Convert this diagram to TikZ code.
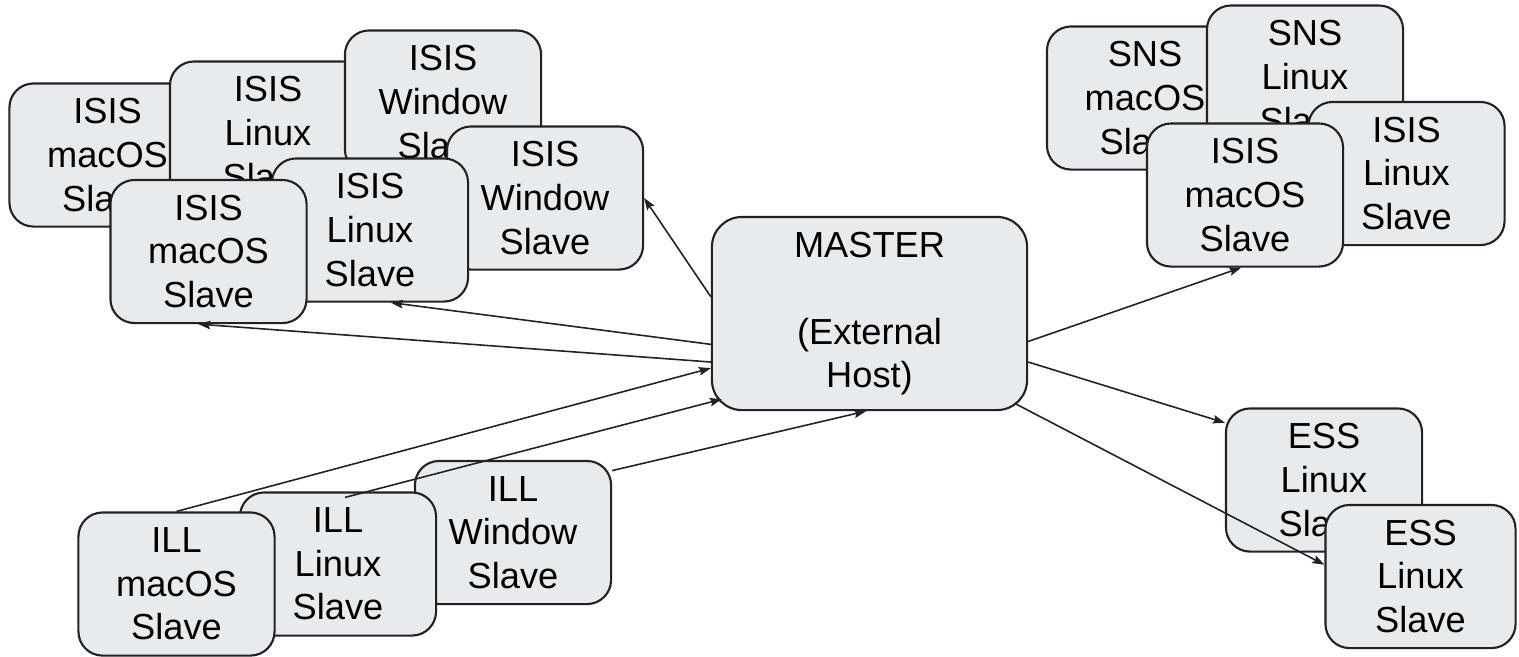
\documentclass[tikz,border=0pt]{standalone}
\usepackage{fontspec}
\setmainfont{Liberation Sans}
\usepackage{tikz}
\usetikzlibrary{arrows.meta}

\definecolor{boxgray}{RGB}{232,235,237}
\definecolor{edge}{RGB}{34,34,34}
\newcommand{\boxfont}{\fontsize{10.3}{12.4}\selectfont}

\tikzset{
  slave/.style={draw=edge, line width=0.6pt, fill=boxgray, rounded corners=0.24cm,
    minimum width=1.96cm, minimum height=1.43cm, inner sep=0cm, align=center, font=\boxfont},
  host/.style={slave, minimum width=3.15cm, minimum height=1.93cm, rounded corners=0.3cm},
  link/.style={-{Stealth[length=0.12cm,width=0.085cm,inset=0.02cm]}, line width=0.45pt, draw=edge}
}

\begin{document}
\begin{tikzpicture}[x=0.01cm,y=-0.01cm]
\useasboundingbox (0,0) rectangle (1519,656);

\node[slave] (isisMacB) at (107.5,155) {ISIS\\macOS\\Slave};
\node[slave] (isisLinB) at (268,133) {ISIS\\Linux\\Slave};
\node[slave] (isisWinB) at (443,102) {ISIS\\Window\\Slave};
\node[slave] (isisWinF) at (545,198) {ISIS\\Window\\Slave};
\node[slave] (isisLinF) at (370,230) {ISIS\\Linux\\Slave};
\node[slave] (isisMacF) at (208.5,251.5) {ISIS\\macOS\\Slave};

\node[slave] (snsMac) at (1145,98) {SNS\\macOS\\Slave};
\node[slave] (snsLin) at (1305,77) {SNS\\Linux\\Slave};
\node[slave] (isisLinR) at (1406.5,173.5) {ISIS\\Linux\\Slave};
\node[slave] (isisMacR) at (1245,195) {ISIS\\macOS\\Slave};

\node[host] (master) at (869.5,313.5) {MASTER\\ \mbox{}\\ (External\\ Host)};

\node[slave] (essLinB) at (1324,480) {ESS\\Linux\\Slave};
\node[slave, minimum width=1.9cm] (essLinF) at (1420.5,576.5) {ESS\\Linux\\Slave};

\node[slave] (illWin) at (513,532.5) {ILL\\Window\\Slave};
\node[slave] (illLin) at (338,564) {ILL\\Linux\\Slave};
\node[slave] (illMac) at (176.5,584) {ILL\\macOS\\Slave};

\draw[link] (master.174) -- (isisWinF.east);
\draw[link] (master.191) -- (isisLinF.286);
\draw[link] (master.197) -- (isisMacF.262);
\draw[link] (illMac.north) -- (master.199);
\draw[link] ([shift={(7,6)}]illLin.north) -- ([shift={(11,-12)}]master.south west);
\draw[link] (illWin.32) -- (master.268);
\draw[link] (master.350) -- (isisMacR.267);
\draw[link] (master.343) -- (essLinB.150);
\draw[link] ([shift={(-12,-7)}]master.south east) -- (essLinF.173);
\end{tikzpicture}
\end{document}
